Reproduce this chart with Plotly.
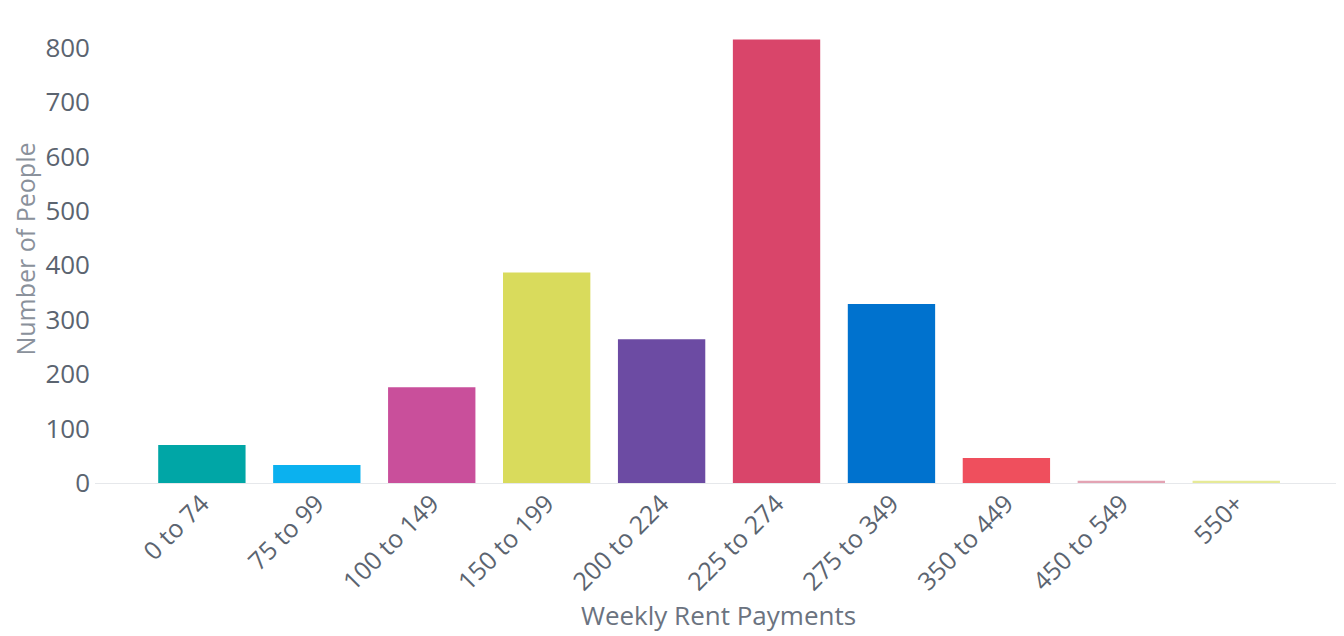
import plotly.graph_objects as go

categories = ["0 to 74", "75 to 99", "100 to 149", "150 to 199", "200 to 224",
              "225 to 274", "275 to 349", "350 to 449", "450 to 549", "550+"]
people = [70, 33, 176, 387, 264, 815, 329, 46, 4, 4]
colors = ["#00A6A6", "#0BB1EF", "#C94F9B", "#D9DB5C", "#6C4BA3",
          "#D9456A", "#0072CE", "#EF4F5D", "#E3A3B3", "#E6EA98"]
y_ticks = [0, 100, 200, 300, 400, 500, 600, 700, 800]

fig = go.Figure(go.Bar(x=categories, y=people, marker=dict(color=colors, line=dict(width=0))))

fig.update_layout(
    width=1336, height=628,
    margin=dict(l=87, r=2, t=7, b=153, autoexpand=False),
    paper_bgcolor="white", plot_bgcolor="white",
    bargap=0.24,
    showlegend=False,
    font=dict(family="Open Sans, Noto Sans, sans-serif", color="#5b6470"),
)
fig.update_xaxes(
    type="category", range=[-0.93, 9.92],
    tickangle=-45, tickfont=dict(size=25, color="#5b6470"),
    showgrid=False, showline=False, ticks="",
    title=dict(text="Weekly Rent Payments", font=dict(size=26, color="#6b7380"), standoff=4),
)
fig.update_yaxes(
    range=[0, 860], tickvals=y_ticks,
    tickfont=dict(size=26, color="#5b6470"),
    showgrid=False, zeroline=True, zerolinecolor="#e6e8eb", zerolinewidth=1,
    ticks="", ticklabelstandoff=4,
    title=dict(text="Number of People", font=dict(size=25, color="#8a919b"), standoff=4),
)

fig.write_html("out.html")
